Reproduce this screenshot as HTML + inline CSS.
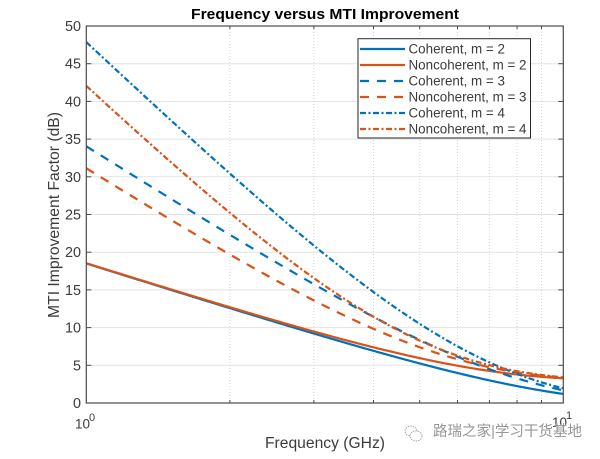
<!DOCTYPE html>
<html><head><meta charset="utf-8"><style>
html,body{margin:0;padding:0;background:#fff;}
svg{display:block;}
text{font-family:"Liberation Sans",Arial,sans-serif;fill:#3c3c3c;}
</style></head><body>
<svg id="s" width="600" height="459" viewBox="0 0 600 459" xmlns="http://www.w3.org/2000/svg">
<rect x="0" y="0" width="600" height="459" fill="#fff"/>
<rect x="86.3" y="26" width="477" height="377" fill="#fff"/>
<g id="grid"></g>
<defs><clipPath id="cp"><rect x="86.3" y="26" width="477" height="377"/></clipPath></defs>
<g id="curves" clip-path="url(#cp)"></g>
<g id="axes"></g>
<text x="325" y="19" text-anchor="middle" font-size="14.5" font-weight="bold" textLength="268" lengthAdjust="spacingAndGlyphs" style="fill:#000">Frequency versus MTI Improvement</text>
<g font-size="14.4" text-anchor="end">
<text x="81" y="408">0</text>
<text x="81" y="370.3">5</text>
<text x="81" y="332.6">10</text>
<text x="81" y="294.9">15</text>
<text x="81" y="257.2">20</text>
<text x="81" y="219.5">25</text>
<text x="81" y="181.8">30</text>
<text x="81" y="144.1">35</text>
<text x="81" y="106.4">40</text>
<text x="81" y="68.7">45</text>
<text x="81" y="31">50</text>
</g>
<text x="75" y="428.5" font-size="13.5">10</text>
<text x="89" y="421" font-size="11">0</text>
<text x="552" y="427" font-size="13.5">10</text>
<text x="566" y="419" font-size="11">1</text>
<text x="325" y="448" text-anchor="middle" font-size="15.5" textLength="120" lengthAdjust="spacingAndGlyphs">Frequency (GHz)</text>
<text transform="translate(59,215) rotate(-90)" text-anchor="middle" font-size="15.5" textLength="206" lengthAdjust="spacingAndGlyphs">MTI Improvement Factor (dB)</text>
<!-- legend -->
<rect x="358" y="38.7" width="172.5" height="99.3" fill="#fff" stroke="#262626" stroke-width="1"/>
<g stroke-width="2.2" fill="none">
<line x1="360" y1="49" x2="405" y2="49" stroke="#0072BD"/>
<line x1="360" y1="65" x2="405" y2="65" stroke="#D95319"/>
<line x1="360" y1="81" x2="405" y2="81" stroke="#0072BD" stroke-dasharray="9,8"/>
<line x1="360" y1="97" x2="405" y2="97" stroke="#D95319" stroke-dasharray="9,8"/>
<line x1="360" y1="113" x2="405" y2="113" stroke="#0072BD" stroke-dasharray="6,2.5,2,2.5"/>
<line x1="360" y1="129" x2="405" y2="129" stroke="#D95319" stroke-dasharray="6,2.5,2,2.5"/>
</g>
<g font-size="13.4">
<text x="408.5" y="53.7">Coherent, m = 2</text>
<text x="408.5" y="69.7">Noncoherent, m = 2</text>
<text x="408.5" y="85.7">Coherent, m = 3</text>
<text x="408.5" y="101.7">Noncoherent, m = 3</text>
<text x="408.5" y="117.7">Coherent, m = 4</text>
<text x="408.5" y="133.7">Noncoherent, m = 4</text>
</g>
<!-- watermark -->
<g fill="none" stroke="#a8a8a8" stroke-width="1" stroke-dasharray="1.5,1">
<ellipse cx="411" cy="431" rx="6" ry="5"/>
<ellipse cx="416" cy="436" rx="6" ry="5" fill="#fff"/>
</g>
<text x="433" y="436" font-size="14.5" textLength="149" lengthAdjust="spacingAndGlyphs" stroke="#ffffff" stroke-width="0.6" paint-order="stroke" style="fill:#959595;font-family:'Liberation Sans','Noto Sans CJK SC',sans-serif">路瑞之家|学习干货基地</text>
</svg>
<script>
(function(){
var NS="http://www.w3.org/2000/svg";
var L=86.3,R=563.3,T=26,B=403,W=R-L,K=(B-T)/50;
function X(f){return L+Math.log10(f)*W;}
function Y(v){return B-v*K;}
function el(tag,attrs,parent){var e=document.createElementNS(NS,tag);for(var k in attrs)e.setAttribute(k,attrs[k]);parent.appendChild(e);return e;}
var grid=document.getElementById("grid"),axes=document.getElementById("axes"),cur=document.getElementById("curves");
for(var v=5;v<50;v+=5){el("line",{x1:L,y1:Y(v),x2:R,y2:Y(v),stroke:"#e3e3e3","stroke-width":1},grid);}
for(var f=2;f<=9;f++){el("line",{x1:X(f),y1:T,x2:X(f),y2:B,stroke:"#d4d4d4","stroke-width":1,"stroke-dasharray":"1,2"},grid);}
var a0=0.0142;
var Ws={2:[1,-1],3:[1,-2,1],4:[1,-3,3,-1]};
function imp(m,a,nc){
  var w=Ws[m],num=0,den=0;
  for(var i=0;i<w.length;i++){num+=w[i]*w[i];
    for(var j=0;j<w.length;j++){var k=Math.abs(i-j);var r;
      if(k===0)r=1;else if(nc)r=(1+Math.exp(-2*k*k*a))/2;else r=Math.exp(-k*k*a);
      den+=w[i]*w[j]*r;}}
  return 10*Math.log10(num/den);
}
var specs=[[2,false,"#0072BD",null],[2,true,"#D95319",null],[3,false,"#0072BD","9,8"],[3,true,"#D95319","9,8"],[4,false,"#0072BD","6,2.5,2,2.5"],[4,true,"#D95319","6,2.5,2,2.5"]];
specs.forEach(function(s){
  var d="";var N=300;
  for(var n=0;n<=N;n++){var lf=n/N;var f=Math.pow(10,lf);var a=a0*f*f;var v=imp(s[0],a,s[1]);
    d+=(n?"L":"M")+X(f).toFixed(2)+","+Y(v).toFixed(2);}
  var at={d:d,fill:"none",stroke:s[2],"stroke-width":2.2,"stroke-linejoin":"round"};
  if(s[3])at["stroke-dasharray"]=s[3];
  el("path",at,cur);
});
el("rect",{x:L,y:T,width:W,height:B-T,fill:"none",stroke:"#4a4a4a","stroke-width":1.2},axes);
for(var v=5;v<50;v+=5){el("line",{x1:L,y1:Y(v),x2:L+5,y2:Y(v),stroke:"#4a4a4a","stroke-width":1},axes);
  el("line",{x1:R-5,y1:Y(v),x2:R,y2:Y(v),stroke:"#4a4a4a","stroke-width":1},axes);}
for(var f=2;f<=9;f++){el("line",{x1:X(f),y1:B,x2:X(f),y2:B-3,stroke:"#4a4a4a","stroke-width":1},axes);
  el("line",{x1:X(f),y1:T,x2:X(f),y2:T+3,stroke:"#4a4a4a","stroke-width":1},axes);}
})();
</script>
</body></html>
